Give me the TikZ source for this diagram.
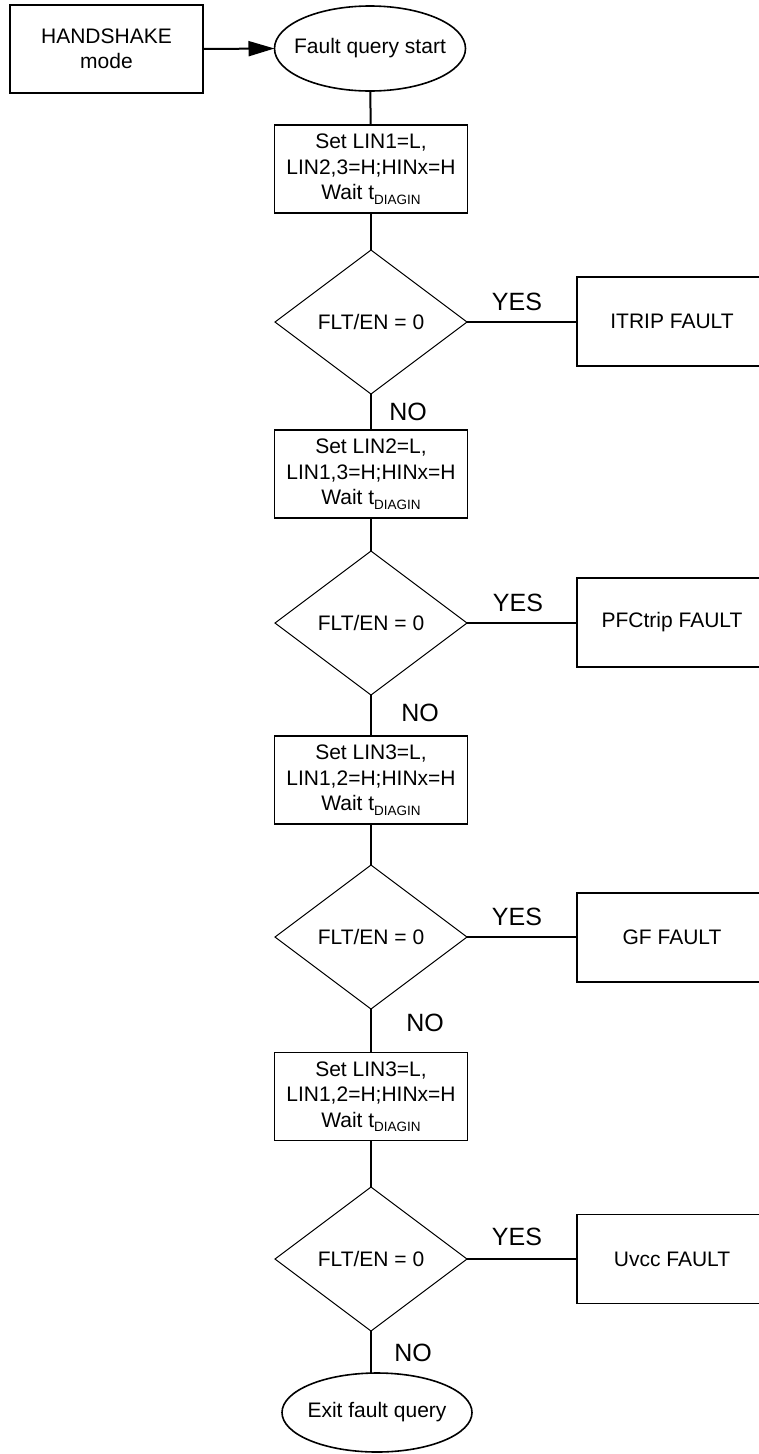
\documentclass[tikz,border=0pt]{standalone}
\usepackage{fontspec}
\setmainfont{Liberation Sans}
\usetikzlibrary{shapes.geometric,arrows.meta}
\newcommand{\tdiag}{t\raisebox{-4.5pt}{\fontsize{13.5}{14}\selectfont DIAGIN}}
\newcommand{\zw}[1]{\makebox[0pt]{#1}}
\begin{document}
\begin{tikzpicture}[x=1pt,y=-1pt,
  every node/.style={font=\fontsize{21}{25.5}\selectfont, align=center, inner sep=0pt, outer sep=0pt},
  procbox/.style={draw, line width=1.2pt, minimum width=193pt, minimum height=88pt},
  sidebox/.style={draw, line width=1.2pt, minimum width=190pt, minimum height=89pt},
  decision/.style={diamond, draw, line width=1pt, minimum width=192pt, minimum height=144pt},
  terminal/.style={ellipse, draw, line width=1.6pt},
  conn/.style={line width=2pt},
  lbl/.style={font=\fontsize{25}{30}\selectfont}
]
\useasboundingbox (0,0) rectangle (758,1454);

\node[procbox] (hs) at (106.5,49) {HANDSHAKE\\mode};
\node[terminal, minimum width=191pt, minimum height=85pt] (start) at (370,48.5) {\zw{Fault query start}};

\node[procbox] (b1) at (371,169) {Set LIN1=L,\\LIN2,3=H;HINx=H\\Wait \tdiag};
\node[decision] (d1) at (371,322) {FLT/EN = 0};
\node[sidebox] (f1) at (672,321.5) {ITRIP FAULT};

\node[procbox] (b2) at (371,474) {Set LIN2=L,\\LIN1,3=H;HINx=H\\Wait \tdiag};
\node[decision] (d2) at (371,623) {FLT/EN = 0};
\node[sidebox] (f2) at (672,622.5) {PFCtrip FAULT};

\node[procbox] (b3) at (371,780) {Set LIN3=L,\\LIN1,2=H;HINx=H\\Wait \tdiag};
\node[decision] (d3) at (371,937) {FLT/EN = 0};
\node[sidebox] (f3) at (672,937.5) {GF FAULT};

\node[procbox] (b4) at (371,1096.5) {Set LIN3=L,\\LIN1,2=H;HINx=H\\Wait \tdiag};
\node[decision] (d4) at (371,1259) {FLT/EN = 0};
\node[sidebox] (f4) at (672,1259) {Uvcc FAULT};

\node[terminal, minimum width=190pt, minimum height=79pt] (ex) at (377,1412.5) {\zw{Exit fault query}};

\node[lbl] (yes1) at (517,302) {YES};
\node[lbl] (yes2) at (518,603) {YES};
\node[lbl] (yes3) at (517,917) {YES};
\node[lbl] (yes4) at (517,1237) {YES};
\node[lbl] (no1) at (408,412) {NO};
\node[lbl] (no2) at (420,713) {NO};
\node[lbl] (no3) at (425,1023) {NO};
\node[lbl] (no4) at (413,1353) {NO};

\draw[conn, -{Triangle[length=26pt,width=15pt]}] (hs.east) -- (start.west);
\draw[conn] (start) -- (b1);
\draw[conn] (b1) -- (d1);
\draw[conn] (d1) -- (b2);
\draw[conn] (b2) -- (d2);
\draw[conn] (d2) -- (b3);
\draw[conn] (b3) -- (d3);
\draw[conn] (d3) -- (b4);
\draw[conn] (b4) -- (d4);
\draw[conn] (d4.south) -- (d4.south |- ex.north);
\draw[conn] (d1.east) -- (d1.east -| f1.west);
\draw[conn] (d2.east) -- (d2.east -| f2.west);
\draw[conn] (d3.east) -- (d3.east -| f3.west);
\draw[conn] (d4.east) -- (d4.east -| f4.west);
\end{tikzpicture}
\end{document}
